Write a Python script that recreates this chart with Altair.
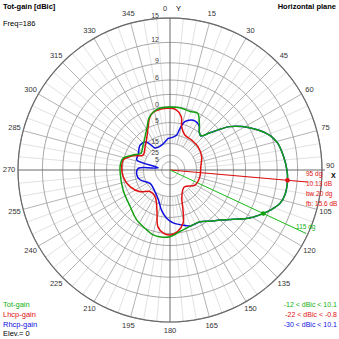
import altair as alt
import pandas as pd

# ---------------- data ----------------
green_deg = [0, 9, 19, 26, 29, 34, 38, 42, 47, 51, 54, 62, 71, 76, 83, 90, 95, 102, 107, 112, 115,
             121, 128, 135, 142, 150, 161, 171, 180, 188, 195, 201, 214, 227, 247, 268, 276,
             284, 292, 300, 313, 323, 332, 338, 344, 351]
green_db = [-0.1, -0.1, -0.4, -0.1, -1.0, -3.2, -4.9, -5.5, -2.6, 0.4, 2.6, 6.0, 8.8, 9.6, 10.1, 10.5,
            10.65, 10.6, 10.2, 9.1, 8.3, 6.6, 4.0, 1.9, 0.4, -1.0, -1.0, -0.3, 0.9, 1.1, 0.9,
            0.25, -1.0, -2.7, -3.75, -4.1, -4.1, -4.6, -7.9, -10.9, -9.35, -7.3, -4.5, -2.1,
            -0.85, -0.2]

red_deg = [0, 6, 12, 15, 23, 36, 50, 67, 84, 103, 121, 140, 156, 162, 166, 173, 180, 186,
           192, 198, 209, 223, 234, 247, 262, 274, 282, 291, 299, 313, 324, 333, 339, 344, 351]
red_db = [-0.4, -0.85, -2.6, -5.9, -8.8, -9.3, -9.5, -10.5, -12.3, -12.5, -13.3, -18.0, -13.4,
          -7.1, -2.6, -0.35, 0.4, 0.0, -1.5, -7.0, -12.5, -13.2, -9.3, -6.6, -5.0, -4.65, -4.8,
          -8.1, -12.4, -10.7, -8.1, -4.7, -2.0, -0.9, -0.5]

blue_deg = [0, 5, 11, 13.5, 17, 25, 30, 34, 38, 42, 47, 51, 54, 62, 71, 76, 83, 90, 95, 102, 107,
            112, 115, 121, 128, 135, 142, 150, 160, 168, 176, 184, 192, 201, 215, 236, 252,
            262, 273, 280, 287, 295, 310, 320, 326, 337, 346, 357]
blue_db = [-11.7, -11.2, -9.9, -6.7, -3.9, -2.45, -2.6, -3.3, -4.9, -5.6, -2.6, 0.4, 2.6, 6.0, 8.8,
           9.6, 10.1, 10.5, 10.65, 10.6, 10.2, 9.1, 8.3, 6.6, 4.0, 1.9, 0.4, -1.0, -1.1, -2.1,
           -3.0, -4.65, -7.5, -11.65, -15.1, -16.7, -12.0, -10.9, -11.9, -28.6, -10.3, -10.1,
           -8.4, -9.4, -14.9, -15.5, -14.5, -11.9]

ring_db = [15, 12, 9, 6, 3, 0, -5, -10, -15, -25, -35]
ring_label_db = [15, 12, 9, 6, 0, -5, -15, -25, -35]
ring_label_txt = ["15", "12", "9", "6", "0", "5", "15", "25", "5"]
angle_label_deg = list(range(15, 360, 15))
angle_label_deg.remove(90)

series_names = ["Tot-gain", "Lhcp-gain", "Rhcp-gain"]
series_colors = ["#13a013", "#e01010", "#1010e0"]
max_deg, max_db = 95, 10.65
bw_deg, bw_db = 115, 8.3

# ---------------- geometry helpers (Vega expressions) ----------------
R_OUT = 152
R_EXPR = f"{R_OUT}*pow(0.89,(15-datum.db)/2)"
XS = alt.Scale(domain=[-170, 169], nice=False, zero=False)
YS = alt.Scale(domain=[-169, 170], nice=False, zero=False)
FONT = "Liberation Sans"


def polar(chart, deg="deg", r="r", px="px", py="py"):
    return chart.transform_calculate(
        **{px: f"datum.{r}*sin(datum.{deg}*PI/180)", py: f"datum.{r}*cos(datum.{deg}*PI/180)"}
    )


def X(f="px"):
    return alt.X(f"{f}:Q", scale=XS, axis=None)


def Y(f="py"):
    return alt.Y(f"{f}:Q", scale=YS, axis=None)


# ---------------- grid ----------------
ring_rows = []
for d in ring_db:
    for a in range(0, 361, 3):
        ring_rows.append({"db": d, "deg": a, "ring": str(d)})
rings_df = pd.DataFrame(ring_rows)
rings = polar(alt.Chart(rings_df).transform_calculate(r=R_EXPR)).mark_line(
    color="#a8a8a8", strokeWidth=1
).encode(x=X(), y=Y(), detail="ring:N", order="deg:Q")

outer = polar(alt.Chart(rings_df[rings_df.db == 15]).transform_calculate(r=R_EXPR)).mark_line(
    color="#6a6a6a", strokeWidth=1.2
).encode(x=X(), y=Y(), order="deg:Q")

spokes_df = pd.DataFrame({"deg": [a for a in range(0, 360, 5) if a % 90 != 0]})
spokes_df["major"] = spokes_df.deg % 15 == 0
spokes = (
    alt.Chart(spokes_df)
    .transform_calculate(r0=f"{R_OUT}*pow(0.89,(15-(-15))/2)", r1=str(R_OUT))
    .transform_calculate(
        x0="datum.r0*sin(datum.deg*PI/180)", y0="datum.r0*cos(datum.deg*PI/180)",
        x1="datum.r1*sin(datum.deg*PI/180)", y1="datum.r1*cos(datum.deg*PI/180)",
    )
    .mark_rule(strokeWidth=1)
    .encode(
        x=X("x0"), y=Y("y0"), x2="x1:Q", y2="y1:Q",
        color=alt.Color("major:N", scale=alt.Scale(domain=[False, True], range=["#e2e2e2", "#b4b4b4"]), legend=None),
    )
)

axes_df = pd.DataFrame({"deg": [0, 90]})
axes_lines = (
    alt.Chart(axes_df)
    .transform_calculate(
        x0=f"-{R_OUT}*sin(datum.deg*PI/180)", y0=f"-{R_OUT}*cos(datum.deg*PI/180)",
        x1=f"{R_OUT + 3}*sin(datum.deg*PI/180)", y1=f"{R_OUT}*cos(datum.deg*PI/180)",
    )
    .mark_rule(color="#6a6a6a", strokeWidth=1)
    .encode(x=X("x0"), y=Y("y0"), x2="x1:Q", y2="y1:Q")
)

# ring labels
rl_df = pd.DataFrame({"db": ring_label_db, "txt": ring_label_txt})
ring_labels = (
    alt.Chart(rl_df)
    .transform_calculate(r=R_EXPR, px="0", py="datum.r")
    .mark_text(align="right", baseline="middle", dx=-11, dy=-2, fontSize=7, font=FONT)
    .encode(x=X(), y=Y(), text="txt:N", color=alt.value("#3c3c3c"))
)

# angle labels
al_df = pd.DataFrame({"deg": angle_label_deg, "txt": [str(a) for a in angle_label_deg], "r": 161})
angle_labels = polar(alt.Chart(al_df)).mark_text(
    align="center", baseline="middle", fontSize=7.5, font=FONT
).encode(x=X(), y=Y(), text="txt:N", color=alt.value("#333333"))

# ---------------- curves ----------------
frames = []
for name, degs, dbs in [("Tot-gain", green_deg, green_db), ("Lhcp-gain", red_deg, red_db), ("Rhcp-gain", blue_deg, blue_db)]:
    dd = list(degs) + [degs[0] + 360]
    vv = list(dbs) + [dbs[0]]
    frames.append(pd.DataFrame({"deg": dd, "db": vv, "series": name, "ord": range(len(dd))}))
curves_df = pd.concat(frames[::-1])

curves = polar(alt.Chart(curves_df).transform_calculate(r=R_EXPR)).mark_line(
    strokeWidth=1.5, interpolate="catmull-rom"
).encode(
    x=X(), y=Y(), order="ord:Q",
    color=alt.Color("series:N", scale=alt.Scale(domain=series_names, range=series_colors), legend=None),
    detail="series:N",
)

# max direction and beam-width markers
mk_df = pd.DataFrame({"deg": [max_deg, bw_deg], "db": [max_db, bw_db], "c": ["max", "bw"], "rl": [138, 150]})
mk_lines = (
    alt.Chart(mk_df)
    .transform_calculate(x1="datum.rl*sin(datum.deg*PI/180)", y1="datum.rl*cos(datum.deg*PI/180)", x0="0", y0="0")
    .mark_rule(strokeWidth=1)
    .encode(x=X("x0"), y=Y("y0"), x2="x1:Q", y2="y1:Q",
            color=alt.Color("c:N", scale=alt.Scale(domain=["max", "bw"], range=["#e01010", "#20c020"]), legend=None))
)
mk_pts = (
    polar(alt.Chart(mk_df).transform_calculate(r=R_EXPR))
    .mark_point(filled=True, size=22, opacity=1)
    .encode(x=X(), y=Y(),
            color=alt.Color("c:N", scale=alt.Scale(domain=["max", "bw"], range=["#e01010", "#10a010"]), legend=None))
)


# ---------------- texts ----------------
def txt(t, x, y, color="#000000", align="left", bold=False, size=7.5):
    return alt.Chart(pd.DataFrame({"t": [t]})).mark_text(
        align=align, baseline="middle", fontSize=size, font=FONT,
        fontWeight="bold" if bold else "normal",
    ).encode(x=alt.value(x), y=alt.value(y), text="t:N", color=alt.value(color))


texts = [
    txt("Tot-gain [dBic]", 3, 7, bold=True),
    txt("Freq=186", 3, 24),
    txt("Horizontal plane", 336, 7, align="right", bold=True),
    txt("0", 163, 9, color="#333333"),
    txt("Y", 176, 9),
    txt("90", 326, 166, color="#333333"),
    txt("X", 331, 176, bold=True, size=7),
    txt("95 dg", 306, 174, color="#e01010", size=6.5),
    txt("10.13 dB", 306, 184, color="#e01010", size=6.5),
    txt("bw 20 dg", 306, 194, color="#e01010", size=6.5),
    txt("fb: 15.6 dB", 306, 204, color="#e01010", size=6.5),
    txt("115 dg", 296, 227, color="#10b010", size=6.5),
    txt("Tot-gain", 3, 305, color="#10b010"),
    txt("Lhcp-gain", 3, 315, color="#e01010"),
    txt("Rhcp-gain", 3, 325, color="#1010e0"),
    txt("Elev.= 0", 3, 334),
    txt("-12 < dBic < 10.1", 337, 305, color="#10b010", align="right", size=7),
    txt("-22 < dBic < -0.8", 337, 315, color="#e01010", align="right", size=7),
    txt("-30 < dBic < 10.1", 337, 325, color="#1010e0", align="right", size=7),
]

chart = alt.layer(
    spokes, rings, outer, axes_lines, ring_labels, angle_labels, mk_lines, curves, mk_pts, *texts
).resolve_scale(color="independent").properties(
    width=339, height=339, padding=0, autosize="none", background="white"
).configure_view(stroke=None)

chart.save("out.html", embed_options={"renderer": "svg", "actions": False})
